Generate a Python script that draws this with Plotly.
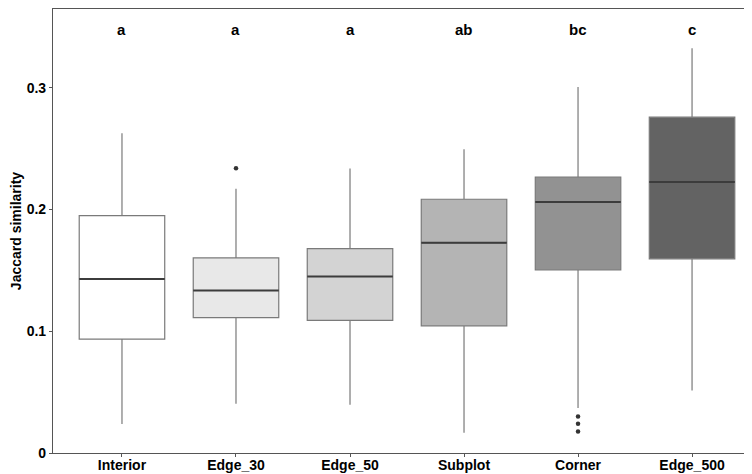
import plotly.graph_objects as go

categories = ["Interior", "Edge_30", "Edge_50", "Subplot", "Corner", "Edge_500"]
lower_whisker = [0.0238, 0.0405, 0.0397, 0.0167, 0.0370, 0.0514]
q1 = [0.0936, 0.1113, 0.1089, 0.1045, 0.1505, 0.1595]
median = [0.1430, 0.1335, 0.1450, 0.1727, 0.2063, 0.2227]
q3 = [0.1950, 0.1603, 0.1680, 0.2085, 0.2266, 0.2759]
upper_whisker = [0.2627, 0.2172, 0.2337, 0.2496, 0.3008, 0.3325]
outlier_cat = ["Edge_30", "Corner", "Corner", "Corner"]
outlier_val = [0.2340, 0.0300, 0.0240, 0.0177]
letters = ["a", "a", "a", "ab", "bc", "c"]
fills = ["#FFFFFF", "#E8E8E8", "#D3D3D3", "#B4B4B4", "#929292", "#636363"]

letter_y = 0.348
FONT = "Liberation Sans, Arial, sans-serif"

fig = go.Figure()
for i, c in enumerate(categories):
    fig.add_trace(go.Box(
        x=[c], q1=[q1[i]], median=[median[i]], q3=[q3[i]],
        lowerfence=[lower_whisker[i]], upperfence=[upper_whisker[i]],
        fillcolor=fills[i], line=dict(color="#7A7A7A", width=1.2),
        whiskerwidth=0, width=0.75, boxpoints=False, showlegend=False,
        hoverinfo="skip",
    ))
    # darker median line drawn as a flat box
    fig.add_trace(go.Box(
        x=[c], q1=[median[i]], median=[median[i]], q3=[median[i]],
        lowerfence=[median[i]], upperfence=[median[i]],
        fillcolor="rgba(0,0,0,0)", line=dict(color="#3C3C3C", width=2),
        whiskerwidth=0, width=0.75, boxpoints=False, showlegend=False,
        hoverinfo="skip",
    ))

fig.add_trace(go.Scatter(
    x=outlier_cat, y=outlier_val, mode="markers",
    marker=dict(color="#333333", size=4.5), showlegend=False, hoverinfo="skip",
))

for c, t in zip(categories, letters):
    fig.add_annotation(x=c, y=letter_y, text=f"<b>{t}</b>", showarrow=False,
                       font=dict(family=FONT, size=15, color="black"),
                       yanchor="middle")

fig.update_layout(
    width=752, height=474,
    margin=dict(l=45, r=0, t=1, b=29, autoexpand=False),
    paper_bgcolor="white", plot_bgcolor="white",
    boxmode="overlay",
    font=dict(family=FONT),
    xaxis=dict(
        categoryorder="array", categoryarray=categories,
        range=[-0.605, 5.596],
        showline=True, linecolor="#555555", linewidth=1.2, mirror=True,
        ticks="outside", ticklen=3, tickcolor="#555555",
        ticklabelstandoff=-4,
        showgrid=False, zeroline=False, automargin=False,
        tickfont=dict(family=FONT, size=14, color="black", weight="bold"),
    ),
    yaxis=dict(
        range=[0, 0.3648], tickvals=[0, 0.1, 0.2, 0.3],
        ticktext=["0", "0.1", "0.2", "0.3"],
        showline=True, linecolor="#555555", linewidth=1.2,
        ticks="outside", ticklen=3, tickcolor="#555555",
        showgrid=False, zeroline=False, automargin=False,
        tickfont=dict(family=FONT, size=14, color="black", weight="bold"),
        title=dict(text="<b>Jaccard similarity</b>", standoff=4,
                   font=dict(family=FONT, size=14, color="black")),
    ),
)

fig.write_html("out.html")
